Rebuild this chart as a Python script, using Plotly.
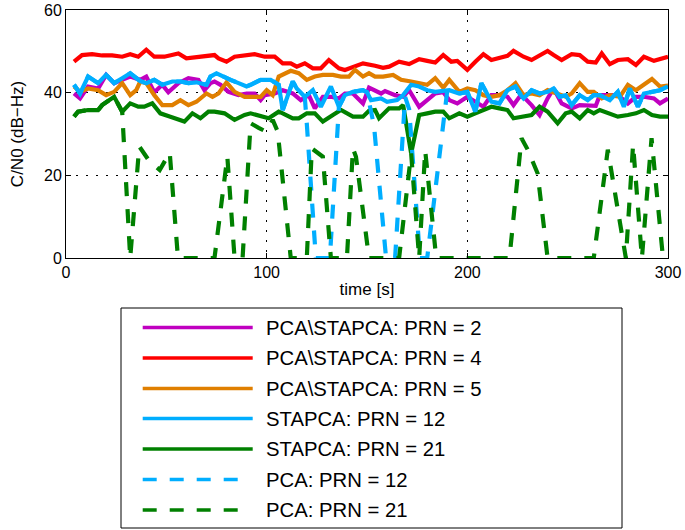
import plotly.graph_objects as go

# ---------------- data ----------------
t_prn2 = [4, 7, 11, 16, 20, 24, 28, 32, 37, 40, 44, 48, 51, 56, 61, 66, 69, 72, 74, 77, 81, 86, 90, 94, 97, 99,
          104, 108, 113, 117, 121, 124, 128, 132, 136, 139, 143, 148, 151, 157, 159, 164, 168, 171, 176, 179,
          184, 188, 191, 195, 200, 204, 208, 212, 217, 220, 223, 226, 228, 232, 236, 240, 243, 247, 252, 256,
          260, 264, 266, 271, 275, 280, 284, 288, 293, 296, 300]
cn0_prn2 = [39.8, 38.6, 41.5, 41.0, 44.3, 42.3, 43.1, 43.9, 43.1, 43.9, 40.1, 41.9, 40.1, 42.3, 43.5, 43.1, 40.6,
            42.3, 42.7, 41.9, 40.2, 39.4, 39.8, 39.8, 38.2, 39.4, 39.8, 40.6, 39.8, 38.2, 39.4, 36.2, 39.0, 39.0,
            38.6, 39.8, 39.8, 37.4, 41.2, 39.8, 40.4, 39.4, 39.0, 40.6, 36.6, 37.8, 39.8, 40.1, 38.2, 37.4, 39.0,
            37.8, 36.6, 39.4, 39.4, 39.0, 37.0, 39.0, 39.0, 37.0, 34.6, 38.6, 41.0, 37.4, 36.2, 37.0, 37.0, 36.8,
            39.4, 39.4, 39.4, 37.4, 39.0, 39.0, 38.6, 37.4, 38.6]

t_prn4 = [4, 8, 13, 18, 23, 28, 32, 36, 40, 44, 49, 53, 56, 60, 65, 69, 74, 76, 80, 84, 89, 94, 99, 104, 108, 112,
          115, 119, 123, 127, 131, 136, 139, 143, 148, 154, 158, 161, 166, 171, 176, 180, 184, 188, 192, 195, 200,
          204, 208, 212, 216, 220, 223, 228, 232, 237, 240, 243, 247, 252, 256, 260, 264, 267, 271, 275, 280, 284,
          288, 293, 298, 300]
cn0_prn4 = [47.5, 49.1, 49.3, 49.0, 49.0, 48.7, 49.3, 48.7, 50.4, 48.7, 48.7, 49.1, 49.5, 48.3, 48.5, 48.7, 49.1,
            48.3, 47.5, 48.7, 49.0, 49.3, 48.7, 48.7, 47.1, 47.1, 46.3, 47.1, 45.9, 45.9, 47.9, 45.9, 45.5, 46.3,
            47.1, 46.5, 46.0, 46.3, 47.5, 46.9, 48.1, 47.7, 47.3, 49.1, 47.5, 47.7, 45.5, 47.5, 49.3, 47.9, 48.3,
            48.9, 50.1, 48.7, 47.9, 49.3, 50.1, 49.1, 47.9, 49.3, 49.1, 47.5, 47.3, 49.5, 46.9, 47.9, 48.1, 46.7,
            48.7, 47.7, 48.3, 48.7]

t_prn5 = [4, 7, 11, 16, 20, 24, 28, 32, 35, 37, 40, 44, 48, 53, 57, 61, 65, 70, 73, 76, 80, 84, 89, 94, 97, 100,
          103, 106, 109, 112, 116, 120, 124, 128, 133, 137, 141, 144, 148, 151, 154, 158, 163, 167, 172, 176, 180,
          184, 188, 191, 196, 200, 204, 208, 212, 216, 220, 224, 228, 232, 236, 240, 245, 249, 252, 256, 260, 263,
          267, 271, 276, 280, 284, 288, 292, 296, 300]
cn0_prn5 = [41.5, 40.2, 41.0, 40.6, 39.4, 40.2, 42.3, 39.4, 40.6, 42.7, 42.3, 39.4, 37.0, 37.0, 38.2, 37.0, 37.8,
            39.8, 39.0, 39.8, 42.5, 40.2, 39.0, 39.0, 39.0, 40.6, 39.4, 43.9, 44.7, 45.3, 44.7, 43.1, 43.9, 44.3,
            44.3, 43.9, 43.9, 45.5, 43.9, 44.7, 43.9, 43.9, 44.3, 43.1, 42.7, 42.3, 41.9, 43.5, 41.2, 43.1, 40.2,
            41.0, 40.6, 39.4, 39.0, 39.4, 40.6, 42.3, 39.4, 39.8, 39.4, 40.6, 39.8, 39.0, 39.8, 42.3, 40.2, 40.2,
            38.6, 39.4, 39.0, 41.9, 40.6, 41.9, 43.3, 41.5, 41.7]

t_sta12 = [4, 7, 11, 16, 20, 24, 28, 32, 37, 40, 44, 48, 53, 57, 61, 65, 70, 72, 75, 78, 82, 86, 90, 92, 97, 102,
           106, 108, 111, 113, 115, 119, 123, 127, 132, 136, 139, 143, 148, 150, 152, 157, 160, 165, 168, 172, 176,
           180, 184, 188, 191, 196, 200, 204, 207, 212, 216, 220, 224, 226, 228, 232, 236, 240, 243, 246, 249, 252,
           256, 260, 263, 266, 271, 275, 278, 281, 285, 288, 292, 296, 300]
cn0_sta12 = [41.9, 39.8, 43.9, 42.3, 44.3, 42.3, 43.5, 44.7, 42.8, 42.3, 43.1, 41.9, 42.7, 42.7, 42.3, 42.5, 41.9,
             43.9, 44.7, 43.9, 43.1, 42.3, 41.5, 41.9, 43.1, 43.1, 41.9, 35.8, 39.8, 42.7, 41.0, 39.0, 40.6, 36.6,
             41.5, 36.6, 39.4, 40.2, 40.6, 40.1, 38.2, 38.6, 37.8, 38.2, 39.4, 41.9, 41.5, 40.6, 40.2, 40.5, 40.6,
             39.8, 40.2, 35.4, 42.3, 37.8, 37.4, 40.6, 41.5, 39.8, 38.6, 40.6, 39.8, 40.2, 41.0, 39.0, 39.4, 37.0,
             39.4, 38.2, 39.4, 39.4, 38.2, 40.2, 36.6, 41.0, 36.6, 39.8, 40.2, 40.6, 41.5]

t_sta21 = [4, 6, 11, 16, 18, 24, 28, 32, 36, 39, 43, 47, 52, 59, 63, 67, 71, 74, 79, 84, 89, 92, 101, 106, 108,
           113, 116, 120, 124, 128, 133, 137, 143, 148, 151, 154, 156, 161, 166, 168, 172, 176, 180, 184, 188, 191,
           196, 200, 204, 208, 212, 216, 220, 223, 228, 232, 236, 240, 245, 249, 252, 256, 260, 263, 266, 271, 275,
           280, 284, 288, 292, 296, 300]
cn0_sta21 = [34.2, 35.4, 35.8, 35.8, 37.0, 39.0, 35.4, 37.4, 36.6, 36.6, 37.4, 35.0, 34.2, 33.0, 35.0, 33.8, 35.4,
             35.4, 35.0, 33.4, 34.6, 35.0, 33.8, 35.4, 35.0, 33.8, 33.8, 35.0, 35.0, 33.0, 34.6, 35.8, 34.2, 34.2,
             35.6, 35.8, 33.8, 36.2, 36.2, 37.0, 25.3, 34.6, 35.0, 35.4, 35.4, 33.8, 35.0, 34.2, 35.0, 35.8, 36.6,
             36.2, 35.8, 33.8, 34.2, 34.6, 36.6, 35.4, 32.6, 35.0, 35.4, 33.8, 35.8, 35.0, 35.8, 35.0, 34.2, 34.6,
             35.0, 35.8, 34.6, 34.2, 34.2]

t_pca12 = [4, 7, 11, 16, 20, 24, 28, 32, 37, 40, 44, 48, 53, 57, 61, 65, 70, 72, 75, 78, 82, 86, 90, 92, 97, 102,
           106, 108, 111, 113, 115, 119, 120, 124.5, 131.5, 136, 139, 143, 148, 150, 153.5, 159.5, 164, 167.6, 169,
           171, 176.4, 180, 190, 191, 196, 200, 204, 207, 212, 216, 220, 224, 226, 228, 232, 236, 240, 243, 246,
           249, 252, 256, 260, 263, 266, 271, 275, 278, 281, 285, 288, 292, 296, 300]
cn0_pca12 = [41.9, 39.8, 43.9, 42.3, 44.3, 42.3, 43.5, 44.7, 42.8, 42.3, 43.1, 41.9, 42.7, 42.7, 42.3, 42.5, 41.9,
             43.9, 44.7, 43.9, 43.1, 42.3, 41.5, 41.9, 43.1, 43.1, 41.9, 35.8, 39.8, 42.7, 41.0, 39.0, 32.5, 0.0,
             0.0, 36.6, 39.4, 40.2, 40.6, 40.1, 32.0, 0.0, 0.0, 28.0, 39.0, 36.0, 0.0, 0.0, 40.5, 40.6, 39.8, 40.2,
             35.4, 42.3, 37.8, 37.4, 40.6, 41.5, 39.8, 38.6, 40.6, 39.8, 40.2, 41.0, 39.0, 39.4, 37.0, 39.4, 38.2,
             39.4, 39.4, 38.2, 40.2, 36.6, 41.0, 36.6, 39.8, 40.2, 40.6, 41.5]

t_pca21 = [4, 6, 11, 16, 18, 24, 28, 32, 36.5, 41.7, 46.7, 51.7, 55.8, 60, 65, 70, 74, 80.4, 84, 88, 92, 96, 99.6,
           103, 105.5, 112, 117, 120, 122.5, 128, 132, 136, 140, 143, 144.5, 151, 156, 161, 166, 172, 176, 179,
           184.5, 190, 200, 210, 221, 227, 230, 235, 240, 250, 263, 270, 279, 282.6, 287, 291.8, 297.5, 300]
cn0_pca21 = [34.2, 35.4, 35.8, 35.8, 37.0, 39.0, 35.4, 0.0, 27.0, 23.3, 21.3, 25.5, 0.0, 0.0, 0.0, 0.0, 0.0, 24.5,
             0.0, 0.0, 32.6, 31.5, 30.6, 33.4, 30.6, 0.0, 0.0, 0.0, 26.5, 24.5, 0.0, 0.0, 0.0, 26.5, 24.5, 0.0,
             0.0, 0.0, 0.0, 25.3, 0.0, 26.0, 0.0, 0.0, 0.0, 0.0, 0.0, 29.0, 26.3, 20.5, 0.0, 0.0, 0.0, 26.2, 0.0,
             27.4, 0.0, 29.0, 0.0, 0.0]

series_names = ["PCA\\STAPCA: PRN = 2", "PCA\\STAPCA: PRN = 4", "PCA\\STAPCA: PRN = 5",
                "STAPCA: PRN = 12", "STAPCA: PRN = 21", "PCA: PRN = 12", "PCA: PRN = 21"]
x_ticks = [0, 100, 200, 300]
y_ticks = [0, 20, 40, 60]

# ---------------- styles ----------------
MAGENTA = "#C000C0"
RED = "#FF0000"
ORANGE = "#E07F00"
CYAN = "#00AEFF"
GREEN = "#008000"
DASH = "14px,13px"
LW = 4.2
FONT = "Liberation Sans, Arial, Helvetica, sans-serif"

series = [
    (t_prn2, cn0_prn2, MAGENTA, "solid"),
    (t_prn4, cn0_prn4, RED, "solid"),
    (t_prn5, cn0_prn5, ORANGE, "solid"),
    (t_sta12, cn0_sta12, CYAN, "solid"),
    (t_sta21, cn0_sta21, GREEN, "solid"),
    (t_pca12, cn0_pca12, CYAN, DASH),
    (t_pca21, cn0_pca21, GREEN, DASH),
]

fig = go.Figure()
for (tx, vy, col, dash), name in zip(series, series_names):
    fig.add_trace(go.Scatter(x=tx, y=vy, mode="lines", name=name,
                             line=dict(color=col, width=LW, dash=dash),
                             showlegend=False))

# plot area in pixels
W, H = 685, 530
L, R, T, B = 66, 668, 10, 258


def px(x):
    return (x - L) / (R - L)


def py(y):
    return (B - y) / (B - T)


# manual legend (MATLAB-style long samples)
fig.add_shape(type="rect", xref="paper", yref="paper",
              x0=px(121), x1=px(622), y0=py(308), y1=py(528),
              line=dict(color="black", width=1), fillcolor="white", layer="above")
row_y = [327.5, 358, 388.5, 418.5, 449, 479.5, 510]
for (tx, vy, col, dash), name, ry in zip(series, series_names, row_y):
    x_end = 252.7 if dash == "solid" else 239.5
    fig.add_shape(type="line", xref="paper", yref="paper",
                  x0=px(142.7), x1=px(x_end), y0=py(ry), y1=py(ry),
                  line=dict(color=col, width=3.6, dash=dash), layer="above")
    fig.add_annotation(text=name, xref="paper", yref="paper", x=px(264), y=py(ry),
                       xanchor="left", yanchor="middle", showarrow=False,
                       font=dict(family=FONT, size=20.3, color="black"))

axis_common = dict(showline=True, linecolor="black", linewidth=1, mirror="ticks",
                   ticks="inside", ticklen=5, tickcolor="black", tickwidth=1,
                   showgrid=True, gridcolor="black", gridwidth=1, griddash="2px,8px",
                   zeroline=False, automargin=False,
                   tickfont=dict(family=FONT, size=16, color="black"))

fig.update_xaxes(range=[0, 300], tickvals=x_ticks, ticktext=[str(v) for v in x_ticks],
                 title=dict(text="time [s]", font=dict(family=FONT, size=17, color="black"), standoff=2),
                 **axis_common)
fig.update_yaxes(range=[0, 60], tickvals=y_ticks, ticktext=[str(v) for v in y_ticks],
                 title=dict(text="C/N0 (dB−Hz)", font=dict(family=FONT, size=17, color="black"), standoff=16),
                 **axis_common)

fig.update_layout(width=W, height=H, autosize=False,
                  margin=dict(l=L, r=W - R, t=T, b=H - B, pad=0),
                  paper_bgcolor="white", plot_bgcolor="white",
                  font=dict(family=FONT, color="black"), showlegend=False)

fig.write_html("out.html", config={"displayModeBar": False},
               post_script="document.body.style.margin='0px';document.body.style.padding='0px';")
